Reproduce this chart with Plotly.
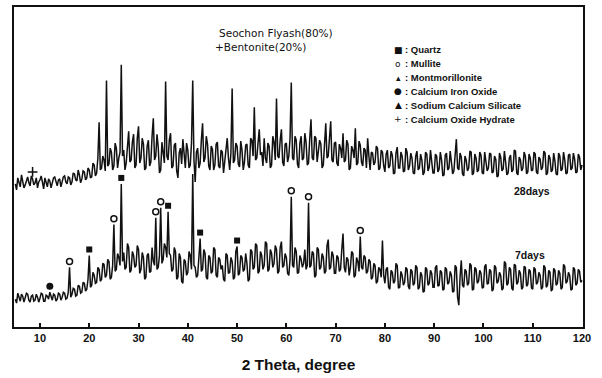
import numpy as np
import plotly.graph_objects as go

# 2-theta grid (degree), 0.25 degree steps from 5 to 120
two_theta = [5.0 + 0.25 * i for i in range(461)]

# intensities (arbitrary units); one row = 5 degrees
int_28days = [
    144, 138, 150, 145, 141, 153, 148, 140, 143, 147, 151, 145, 142, 152, 149, 143, 145, 150, 140, 146,
    148, 152, 143, 139, 150, 146, 141, 149, 147, 140, 144, 150, 151, 145, 142, 148, 149, 141, 145, 151,
    152, 146, 144, 151, 150, 143, 146, 155, 154, 148, 147, 158, 153, 145, 149, 157, 156, 148, 150, 160,
    158, 150, 151, 165, 163, 152, 155, 170, 206, 158, 160, 172, 168, 157, 248, 162, 164, 180, 176, 158,
    162, 185, 180, 160, 170, 176, 264, 172, 178, 158, 165, 184, 197, 166, 168, 186, 194, 160, 163, 190,
    202, 165, 170, 190, 184, 158, 160, 182, 188, 162, 166, 192, 210, 168, 172, 194, 181, 155, 158, 186,
    176, 165, 247, 172, 168, 188, 195, 160, 162, 183, 185, 157, 150, 175, 180, 164, 189, 170, 160, 185,
    178, 160, 163, 185, 248, 168, 146, 176, 180, 160, 165, 188, 205, 166, 170, 192, 184, 162, 158, 182,
    179, 158, 163, 184, 186, 162, 160, 178, 176, 155, 167, 182, 190, 170, 158, 175, 240, 165, 168, 185,
    182, 164, 161, 187, 178, 158, 166, 183, 184, 163, 160, 190, 188, 172, 221, 168, 170, 185, 199, 173,
    176, 162, 190, 170, 165, 185, 182, 160, 163, 192, 186, 168, 230, 172, 170, 188, 199, 166, 162, 184,
    185, 166, 172, 190, 246, 170, 168, 192, 188, 164, 160, 185, 192, 168, 170, 195, 186, 163, 165, 190,
    209, 170, 168, 192, 190, 166, 175, 188, 184, 160, 163, 186, 205, 170, 172, 190, 207, 168, 166, 185,
    186, 165, 162, 184, 180, 170, 195, 166, 168, 188, 184, 158, 160, 182, 178, 170, 200, 163, 165, 187,
    183, 166, 162, 180, 178, 160, 190, 172, 158, 176, 175, 163, 166, 182, 180, 158, 160, 178, 176, 162,
    156, 174, 178, 160, 162, 177, 173, 154, 155, 175, 181, 160, 160, 176, 172, 156, 157, 180, 176, 158,
    162, 175, 170, 155, 154, 172, 177, 158, 160, 174, 168, 153, 156, 176, 174, 157, 161, 178, 166, 155,
    155, 174, 172, 156, 159, 176, 168, 152, 153, 173, 175, 158, 160, 177, 166, 154, 157, 171, 189, 160,
    158, 175, 171, 154, 152, 172, 168, 157, 160, 177, 176, 153, 155, 174, 170, 156, 158, 176, 173, 155,
    154, 176, 167, 157, 160, 175, 174, 155, 156, 172, 169, 151, 152, 175, 171, 157, 159, 177, 166, 153,
    155, 170, 173, 156, 158, 178, 177, 155, 153, 171, 168, 157, 160, 176, 172, 154, 156, 174, 170, 157,
    158, 176, 174, 156, 154, 171, 169, 158, 161, 177, 175, 153, 155, 173, 170, 156, 158, 175, 167, 154,
    153, 175, 172, 157, 159, 176, 168, 154, 155, 173, 174, 158, 160, 175, 169, 155, 156, 174, 171, 158,
    163,
]

int_7days = [
    28, 24, 34, 30, 26, 33, 31, 25, 29, 34, 33, 27, 25, 31, 32, 26, 27, 33, 30, 25,
    29, 34, 33, 26, 26, 32, 31, 28, 35, 30, 27, 33, 32, 26, 28, 34, 33, 27, 30, 35,
    34, 28, 29, 35, 60, 30, 33, 39, 38, 31, 32, 42, 41, 34, 35, 45, 44, 36, 38, 48,
    72, 40, 42, 55, 52, 44, 45, 60, 58, 46, 48, 64, 63, 50, 52, 68, 66, 48, 50, 62,
    103, 56, 58, 74, 70, 62, 144, 66, 75, 58, 60, 84, 80, 55, 57, 76, 72, 60, 62, 82,
    78, 54, 58, 75, 70, 48, 50, 72, 74, 55, 56, 80, 66, 62, 110, 58, 60, 72, 120, 64,
    68, 84, 80, 70, 116, 74, 72, 56, 58, 80, 76, 48, 50, 74, 70, 46, 44, 68, 66, 52,
    55, 76, 72, 58, 154, 62, 60, 50, 52, 70, 89, 56, 58, 78, 74, 50, 48, 72, 70, 54,
    56, 80, 78, 52, 50, 70, 68, 58, 62, 48, 46, 74, 72, 54, 55, 70, 66, 48, 50, 76,
    81, 52, 54, 72, 70, 56, 58, 74, 64, 46, 48, 78, 76, 58, 60, 84, 82, 54, 56, 76,
    72, 58, 62, 86, 84, 56, 58, 78, 74, 60, 64, 82, 78, 54, 56, 80, 86, 60, 62, 74,
    70, 54, 52, 68, 131, 62, 60, 80, 76, 54, 55, 72, 68, 60, 64, 78, 58, 62, 125, 60,
    62, 76, 74, 50, 52, 80, 78, 58, 60, 74, 70, 54, 56, 82, 88, 58, 60, 76, 72, 54,
    54, 72, 70, 56, 58, 78, 94, 60, 55, 70, 68, 52, 60, 76, 74, 50, 52, 70, 66, 56,
    91, 60, 58, 72, 70, 54, 56, 68, 66, 48, 50, 64, 62, 44, 46, 60, 58, 50, 87, 52,
    44, 58, 60, 40, 38, 57, 55, 44, 46, 64, 62, 39, 40, 56, 52, 42, 45, 60, 58, 41,
    38, 58, 56, 42, 44, 62, 60, 38, 40, 55, 52, 35, 36, 60, 58, 42, 44, 57, 54, 40,
    40, 60, 62, 41, 42, 57, 55, 37, 38, 60, 58, 43, 45, 56, 52, 35, 36, 62, 60, 30,
    22, 50, 67, 42, 40, 58, 56, 42, 44, 64, 62, 37, 38, 60, 58, 44, 46, 57, 54, 39,
    40, 61, 63, 43, 44, 58, 56, 36, 38, 62, 60, 44, 46, 55, 52, 37, 39, 66, 64, 42,
    44, 60, 58, 39, 37, 63, 62, 43, 45, 57, 54, 38, 40, 61, 60, 41, 43, 58, 56, 39,
    38, 60, 58, 43, 45, 55, 52, 38, 40, 62, 60, 40, 42, 57, 55, 36, 38, 59, 57, 42,
    44, 57, 54, 38, 40, 63, 61, 44, 46, 55, 52, 37, 38, 60, 58, 42, 44, 58, 56, 45,
    47,
]

# identified phases (peak positions, degree)
quartz_7d = [20.0, 26.5, 36.0, 42.5, 50.0]
mullite_7d = [16.0, 25.0, 33.5, 34.5, 61.0, 64.5, 75.0]
calcium_iron_oxide_7d = [12.0]
calcium_oxide_hydrate_28d = [8.5]

legend_symbols = ["■", "o", "▴", "●", "▲", "+"]
legend_names = [": Quartz", ": Mullite", ": Montmorillonite", ": Calcium Iron Oxide",
                ": Sodium Calcium Silicate", ": Calcium Oxide Hydrate"]

series_labels = ["28days", "7days"]
x_ticks = list(range(10, 121, 10))

tt = np.array(two_theta)
s28 = np.array(int_28days)
s7 = np.array(int_7days)


def at(series, xs, off):
    return [series[int(np.argmin(np.abs(tt - x)))] + off for x in xs]


INK = "#111111"
fig = go.Figure()
line = dict(color=INK, width=1.5)
fig.add_trace(go.Scatter(x=two_theta, y=int_28days, mode="lines", line=line, showlegend=False))
fig.add_trace(go.Scatter(x=two_theta, y=int_7days, mode="lines", line=line, showlegend=False))

fig.add_trace(go.Scatter(x=quartz_7d, y=at(s7, quartz_7d, 6), mode="markers",
                         marker=dict(symbol="square", size=6, color=INK), showlegend=False))
fig.add_trace(go.Scatter(x=mullite_7d, y=at(s7, mullite_7d, 6), mode="markers",
                         marker=dict(symbol="circle-open", size=6, color=INK, line=dict(width=1.5, color=INK)),
                         showlegend=False))
fig.add_trace(go.Scatter(x=calcium_iron_oxide_7d, y=at(s7, calcium_iron_oxide_7d, 6), mode="markers",
                         marker=dict(symbol="circle", size=7, color=INK), showlegend=False))
fig.add_trace(go.Scatter(x=calcium_oxide_hydrate_28d, y=at(s28, calcium_oxide_hydrate_28d, 7), mode="markers",
                         marker=dict(symbol="cross-thin", size=7, color=INK, line=dict(width=1.5, color=INK)),
                         showlegend=False))

font = "Liberation Sans, Arial, sans-serif"
tfont = "DejaVu Sans, sans-serif"
ann = []
ann.append(dict(text="Seochon Flyash(80%)", x=0.357, y=(327 - 31) / 322, xref="paper", yref="paper",
                xanchor="left", yanchor="middle", showarrow=False, font=dict(size=10.5, family=tfont, color=INK)))
ann.append(dict(text="+Bentonite(20%)", x=0.350, y=(327 - 45) / 322, xref="paper", yref="paper",
                xanchor="left", yanchor="middle", showarrow=False, font=dict(size=10.5, family=tfont, color=INK)))
rows_y = [48, 62, 76, 90, 104, 118]
for sym, name, py in zip(legend_symbols, legend_names, rows_y):
    yp = (327 - py) / 322
    ann.append(dict(text=sym, x=0.675, y=yp, xref="paper", yref="paper", xanchor="center", yanchor="middle",
                    showarrow=False, font=dict(size=9, family="DejaVu Sans", color=INK)))
    ann.append(dict(text="<b>" + name + "</b>", x=0.683, y=yp, xref="paper", yref="paper", xanchor="left",
                    yanchor="middle", showarrow=False, font=dict(size=9.5, family=font, color=INK)))
ann.append(dict(text="<b>" + series_labels[0] + "</b>", x=105.7, y=137, xanchor="left", yanchor="middle",
                showarrow=False, font=dict(size=10.5, family=font, color=INK)))
ann.append(dict(text="<b>" + series_labels[1] + "</b>", x=105.9, y=72, xanchor="left", yanchor="middle",
                showarrow=False, font=dict(size=10.5, family=font, color=INK)))

fig.update_layout(
    width=602, height=378,
    margin=dict(l=14, r=19, t=5, b=51),
    paper_bgcolor="white", plot_bgcolor="white",
    annotations=ann,
    xaxis=dict(range=[4.73, 120.2], tickvals=x_ticks, ticks="inside", ticklen=4, tickwidth=1.5,
               tickcolor=INK, showline=True, linecolor=INK, linewidth=1.6, mirror=True,
               showgrid=False, zeroline=False,
               tickfont=dict(size=11, family=font, color=INK, weight="bold"),
               title=dict(text="<b>2 Theta, degree</b>", standoff=16, font=dict(size=15.5, family=font, color=INK))),
    yaxis=dict(range=[0, 322], showticklabels=False, ticks="", showline=True, linecolor=INK,
               linewidth=1.6, mirror=True, showgrid=False, zeroline=False),
)

fig.write_html("out.html", config=dict(displayModeBar=False),
               post_script="document.body.style.margin='0';")
